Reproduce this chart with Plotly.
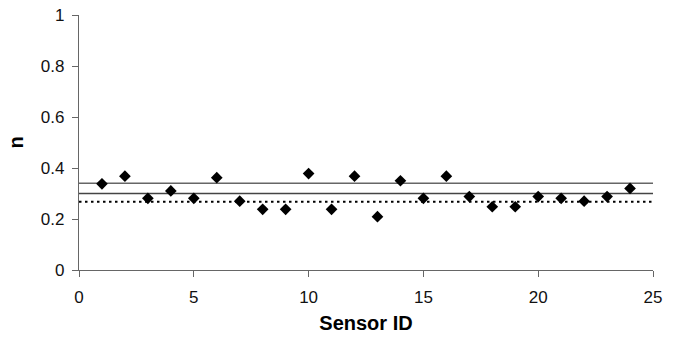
import plotly.graph_objects as go

sensor_id = list(range(1, 25))
n_values = [0.338, 0.368, 0.281, 0.310, 0.281, 0.362, 0.270, 0.238, 0.238, 0.378,
            0.238, 0.368, 0.209, 0.350, 0.281, 0.368, 0.288, 0.248, 0.248, 0.288,
            0.281, 0.270, 0.288, 0.320]
upper_line = 0.34
mid_line = 0.30
dotted_line = 0.268
x_ticks = [0, 5, 10, 15, 20, 25]
y_ticks = [0, 0.2, 0.4, 0.6, 0.8, 1]
y_tick_labels = ["0", "0.2", "0.4", "0.6", "0.8", "1"]

fig = go.Figure()
for val, dash, col, w in [(upper_line, "solid", "#666666", 1.5),
                          (mid_line, "solid", "#444444", 1.5),
                          (dotted_line, "2.5px,3.5px", "#000000", 2)]:
    fig.add_trace(go.Scatter(x=[0, 25], y=[val, val], mode="lines",
                             line=dict(color=col, width=w, dash=dash),
                             showlegend=False, hoverinfo="skip"))
fig.add_trace(go.Scatter(x=sensor_id, y=n_values, mode="markers",
                         marker=dict(symbol="diamond", size=9, color="black"),
                         showlegend=False))

font_fam = "Liberation Sans, Arial, sans-serif"
axis_font = dict(family=font_fam, size=17, color="#111111")
fig.update_layout(
    width=676, height=346,
    margin=dict(l=79, r=23, t=15, b=76),
    paper_bgcolor="white", plot_bgcolor="white",
    xaxis=dict(range=[0, 25], tickvals=x_ticks, ticks="outside", ticklen=6,
               tickcolor="#666666", showline=True, linecolor="#666666", linewidth=1.3,
               showgrid=False, zeroline=False, tickfont=axis_font, automargin=False,
               ticklabelstandoff=5,
               title=dict(text="<b>Sensor ID</b>", font=dict(family=font_fam, size=20, color="black"), standoff=10)),
    yaxis=dict(range=[0, 1], tickvals=y_ticks, ticktext=y_tick_labels, ticks="outside", ticklen=6,
               tickcolor="#666666", showline=True, linecolor="#666666", linewidth=1.3,
               showgrid=False, zeroline=False, tickfont=axis_font, automargin=False,
               ticklabelstandoff=4,
               title=dict(text="<b>n</b>", font=dict(family=font_fam, size=20, color="black"), standoff=11)),
)
fig.write_html("out.html", config={"displayModeBar": False},
               post_script="document.body.style.margin='0';")
